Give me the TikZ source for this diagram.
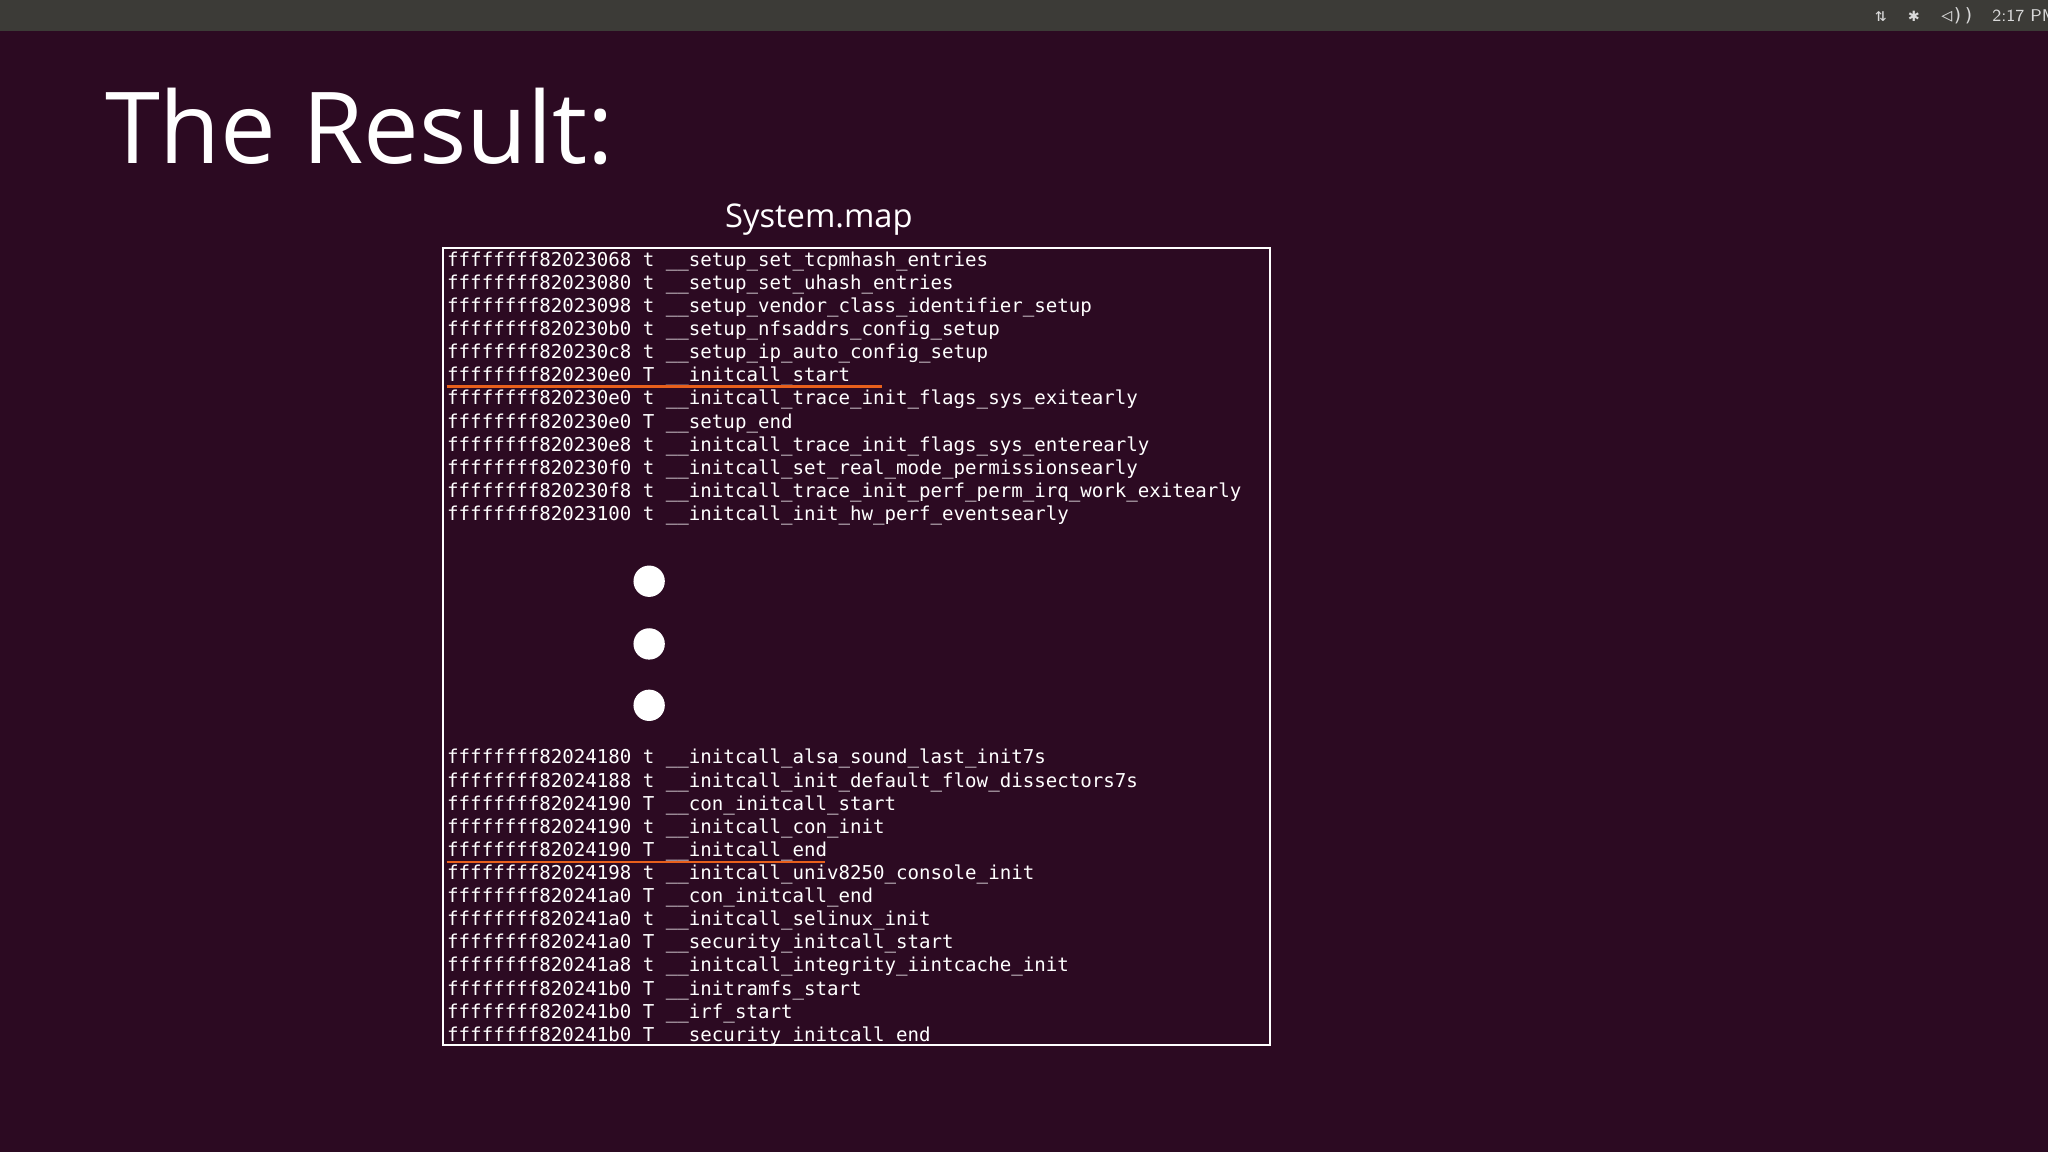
\documentclass[tikz,border=0pt]{standalone}
\usepackage{fontspec}
\setmainfont{Open Sans}
\newfontfamily\termfont{DejaVu Sans Mono}
\definecolor{bgc}{HTML}{2C0A22}
\definecolor{barc}{HTML}{3C3B37}
\definecolor{orangec}{HTML}{E8601C}
\tikzset{line/.style={anchor=west,inner sep=0pt,text=white,font=\termfont\fontsize{7.32}{8}\selectfont},
 mark line/.style={draw=orangec,line width=0.9pt},
 dotc/.style={circle,fill=white,minimum size=12pt,inner sep=0pt}}
\begin{document}
\begin{tikzpicture}[x=0.5pt,y=-0.5pt]
\useasboundingbox (0,0) rectangle (1568,882);
\fill[bgc] (0,0) rectangle (1568,882);
\fill[barc] (0,0) rectangle (1568,24);
\node[anchor=west,text=white!85!black,font=\sffamily\fontsize{6.5}{7}\selectfont,inner sep=0pt] (clock) at (1525,12) {2:17 PM};
\node[anchor=east,text=white!85!black,font=\termfont\fontsize{7}{7}\selectfont,inner sep=0pt] (icons) at (1512,12) {⇅ \ ✱ \ ◁))};
\node[anchor=base west,inner sep=0pt,text=white,font=\fontsize{38}{40}\selectfont] (title) at (80,125) {The Result:};
\node[text=white,font=\fontsize{12.5}{14}\selectfont,inner sep=0pt] (sysmap) at (627,168) {System.map};
\draw[white,line width=0.8pt] (339,190) rectangle (972,800);
\foreach \t [count=\i] in {
ffffffff82023068 t \_\_setup\_set\_tcpmhash\_entries,
ffffffff82023080 t \_\_setup\_set\_uhash\_entries,
ffffffff82023098 t \_\_setup\_vendor\_class\_identifier\_setup,
ffffffff820230b0 t \_\_setup\_nfsaddrs\_config\_setup,
ffffffff820230c8 t \_\_setup\_ip\_auto\_config\_setup,
ffffffff820230e0 T \_\_initcall\_start,
ffffffff820230e0 t \_\_initcall\_trace\_init\_flags\_sys\_exitearly,
ffffffff820230e0 T \_\_setup\_end,
ffffffff820230e8 t \_\_initcall\_trace\_init\_flags\_sys\_enterearly,
ffffffff820230f0 t \_\_initcall\_set\_real\_mode\_permissionsearly,
ffffffff820230f8 t \_\_initcall\_trace\_init\_perf\_perm\_irq\_work\_exitearly,
ffffffff82023100 t \_\_initcall\_init\_hw\_perf\_eventsearly}
 \node[line] (u\i) at (342,{200+17.7*(\i-1)}) {\t};
\foreach \t [count=\i] in {
ffffffff82024180 t \_\_initcall\_alsa\_sound\_last\_init7s,
ffffffff82024188 t \_\_initcall\_init\_default\_flow\_dissectors7s,
ffffffff82024190 T \_\_con\_initcall\_start,
ffffffff82024190 t \_\_initcall\_con\_init,
ffffffff82024190 T \_\_initcall\_end,
ffffffff82024198 t \_\_initcall\_univ8250\_console\_init,
ffffffff820241a0 T \_\_con\_initcall\_end,
ffffffff820241a0 t \_\_initcall\_selinux\_init,
ffffffff820241a0 T \_\_security\_initcall\_start,
ffffffff820241a8 t \_\_initcall\_integrity\_iintcache\_init,
ffffffff820241b0 T \_\_initramfs\_start,
ffffffff820241b0 T \_\_irf\_start,
ffffffff820241b0 T \_\_security\_initcall\_end}
 \node[line] (l\i) at (342,{581+17.7*(\i-1)}) {\t};
\draw[mark line] (342,296) -- (675,296);
\draw[mark line] (342,660) -- (632,660);
\node[dotc] (d1) at (497,445) {};
\node[dotc] (d2) at (497,493) {};
\node[dotc] (d3) at (497,540) {};
\end{tikzpicture}
\end{document}
